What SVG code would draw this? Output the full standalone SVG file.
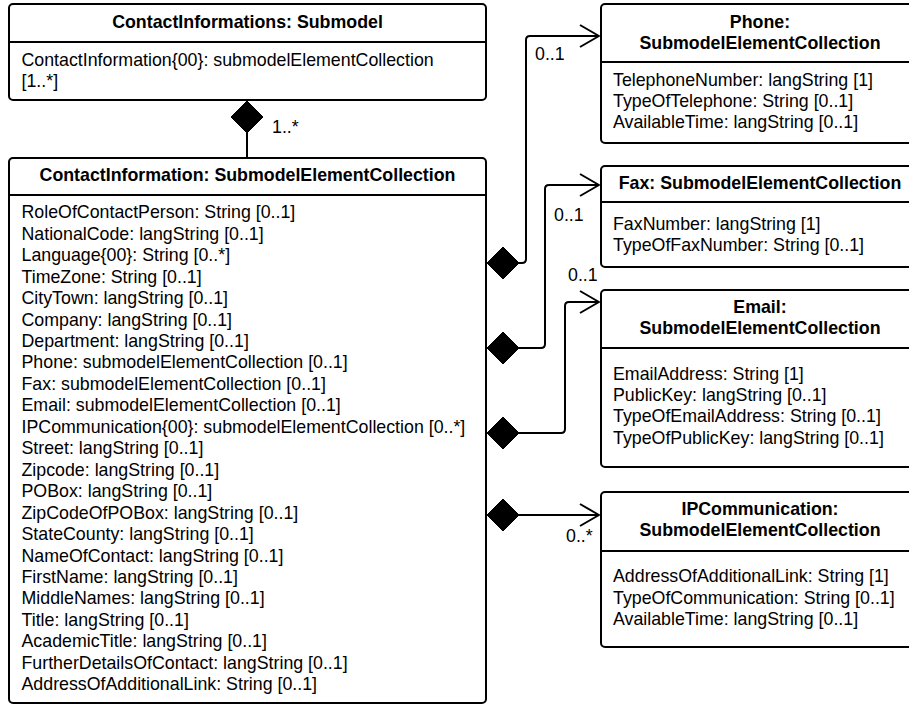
<svg xmlns="http://www.w3.org/2000/svg" width="909" height="704" viewBox="0 0 909 704">
<style>
.box{fill:#fff;stroke:#000;stroke-width:2}
.div{stroke:#000;stroke-width:2}
.t{font-family:"Liberation Sans",Arial,sans-serif;font-size:17.8px;fill:#000}
.b{font-family:"Liberation Sans",Arial,sans-serif;font-size:17.8px;font-weight:bold;fill:#000;text-anchor:middle}
.ln{fill:none;stroke:#000;stroke-width:2;stroke-linejoin:round}
.dm{fill:#000;stroke:#000;stroke-width:1}
</style>
<rect width="909" height="704" fill="#fff"/>
<g id="connectors">
  <path class="dm" d="M247,101 L263,117 L247,133 L231,117 Z"/>
  <line class="ln" x1="247" y1="133" x2="247" y2="158"/>
  <text class="t" x="272" y="133">1..*</text>

  <path class="dm" d="M487,263 L503,247 L519,263 L503,279 Z"/>
  <path class="ln" d="M519,263 L522,263 Q526,263 526,259 L526,40 Q526,36 530,36 L599,36"/>
  <path class="ln" d="M580,25 L599,36 L580,47"/>
  <text class="t" x="535" y="60.4">0..1</text>

  <path class="dm" d="M487,348 L503,332 L519,348 L503,364 Z"/>
  <path class="ln" d="M519,348 L541,348 Q545,348 545,344 L545,189 Q545,185 549,185 L599,185"/>
  <path class="ln" d="M580,174 L599,185 L580,196"/>
  <text class="t" x="554" y="220.6">0..1</text>

  <path class="dm" d="M487,433 L503,417 L519,433 L503,449 Z"/>
  <path class="ln" d="M519,433 L561,433 Q565,433 565,429 L565,306 Q565,302 569,302 L599,302"/>
  <path class="ln" d="M580,291 L599,302 L580,313"/>
  <text class="t" x="568" y="280.6">0..1</text>

  <path class="dm" d="M487,515 L503,499 L519,515 L503,531 Z"/>
  <path class="ln" d="M519,515 L599,515"/>
  <path class="ln" d="M580,504 L599,515 L580,526"/>
  <text class="t" x="566" y="542.4">0..*</text>
</g>
<g id="contactInformations">
  <rect class="box" x="9" y="4" width="477" height="96" rx="4"/>
  <line class="div" x1="9" y1="42" x2="486" y2="42"/>
  <text class="b" x="247.5" y="28">ContactInformations: Submodel</text>
  <text class="t" x="21.5" y="65.7">ContactInformation{00}: submodelElementCollection</text>
  <text class="t" x="21.5" y="87.2">[1..*]</text>
</g>
<g id="contactInformation">
  <rect class="box" x="9" y="158" width="477" height="545" rx="4"/>
  <line class="div" x1="9" y1="195" x2="486" y2="195"/>
  <text class="b" x="247.5" y="181.4">ContactInformation: SubmodelElementCollection</text>
  <text class="t" x="21.5" y="218.3">RoleOfContactPerson: String [0..1]</text>
  <text class="t" x="21.5" y="239.75">NationalCode: langString [0..1]</text>
  <text class="t" x="21.5" y="261.2">Language{00}: String [0..*]</text>
  <text class="t" x="21.5" y="282.65">TimeZone: String [0..1]</text>
  <text class="t" x="21.5" y="304.1">CityTown: langString [0..1]</text>
  <text class="t" x="21.5" y="325.55">Company: langString [0..1]</text>
  <text class="t" x="21.5" y="347">Department: langString [0..1]</text>
  <text class="t" x="21.5" y="368.45">Phone: submodelElementCollection [0..1]</text>
  <text class="t" x="21.5" y="389.9">Fax: submodelElementCollection [0..1]</text>
  <text class="t" x="21.5" y="411.35">Email: submodelElementCollection [0..1]</text>
  <text class="t" x="21.5" y="432.8">IPCommunication{00}: submodelElementCollection [0..*]</text>
  <text class="t" x="21.5" y="454.25">Street: langString [0..1]</text>
  <text class="t" x="21.5" y="475.7">Zipcode: langString [0..1]</text>
  <text class="t" x="21.5" y="497.15">POBox: langString [0..1]</text>
  <text class="t" x="21.5" y="518.6">ZipCodeOfPOBox: langString [0..1]</text>
  <text class="t" x="21.5" y="540.05">StateCounty: langString [0..1]</text>
  <text class="t" x="21.5" y="561.5">NameOfContact: langString [0..1]</text>
  <text class="t" x="21.5" y="582.95">FirstName: langString [0..1]</text>
  <text class="t" x="21.5" y="604.4">MiddleNames: langString [0..1]</text>
  <text class="t" x="21.5" y="625.85">Title: langString [0..1]</text>
  <text class="t" x="21.5" y="647.3">AcademicTitle: langString [0..1]</text>
  <text class="t" x="21.5" y="668.75">FurtherDetailsOfContact: langString [0..1]</text>
  <text class="t" x="21.5" y="690.2">AddressOfAdditionalLink: String [0..1]</text>
</g>
<g id="phone">
  <rect class="box" x="601" y="4" width="318" height="139" rx="4"/>
  <line class="div" x1="601" y1="62" x2="919" y2="62"/>
  <text class="b" x="760" y="28">Phone:</text>
  <text class="b" x="760" y="48.7">SubmodelElementCollection</text>
  <text class="t" x="613" y="86.4">TelephoneNumber: langString [1]</text>
  <text class="t" x="613" y="107">TypeOfTelephone: String [0..1]</text>
  <text class="t" x="613" y="128">AvailableTime: langString [0..1]</text>
</g>
<g id="fax">
  <rect class="box" x="601" y="166" width="318" height="101" rx="4"/>
  <line class="div" x1="601" y1="202" x2="919" y2="202"/>
  <text class="b" x="760" y="189">Fax: SubmodelElementCollection</text>
  <text class="t" x="613" y="229.7">FaxNumber: langString [1]</text>
  <text class="t" x="613" y="251.4">TypeOfFaxNumber: String [0..1]</text>
</g>
<g id="email">
  <rect class="box" x="601" y="290" width="318" height="177" rx="4"/>
  <line class="div" x1="601" y1="348" x2="919" y2="348"/>
  <text class="b" x="760" y="313">Email:</text>
  <text class="b" x="760" y="333.7">SubmodelElementCollection</text>
  <text class="t" x="613" y="379.7">EmailAddress: String [1]</text>
  <text class="t" x="613" y="401.4">PublicKey: langString [0..1]</text>
  <text class="t" x="613" y="422.4">TypeOfEmailAddress: String [0..1]</text>
  <text class="t" x="613" y="444">TypeOfPublicKey: langString [0..1]</text>
</g>
<g id="ipcommunication">
  <rect class="box" x="601" y="492" width="318" height="155" rx="4"/>
  <line class="div" x1="601" y1="551" x2="919" y2="551"/>
  <text class="b" x="760" y="514.7">IPCommunication:</text>
  <text class="b" x="760" y="536.4">SubmodelElementCollection</text>
  <text class="t" x="613" y="582.4">AddressOfAdditionalLink: String [1]</text>
  <text class="t" x="613" y="604">TypeOfCommunication: String [0..1]</text>
  <text class="t" x="613" y="625.4">AvailableTime: langString [0..1]</text>
</g>
</svg>
